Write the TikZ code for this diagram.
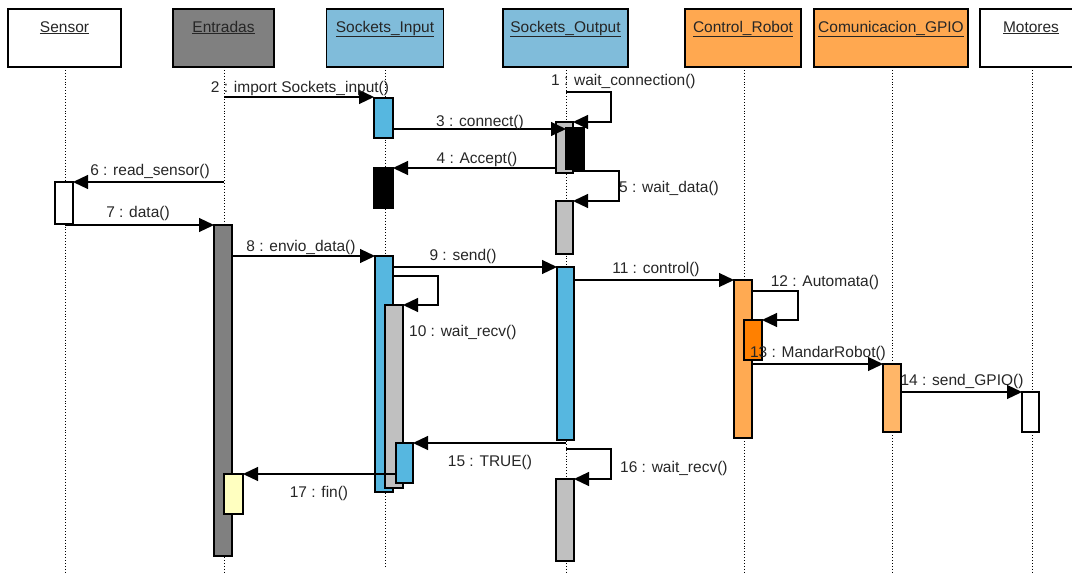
\documentclass[tikz,border=0pt]{standalone}
\usepackage{fontspec}
\setmainfont{Liberation Sans}
\usetikzlibrary{arrows.meta,fit}
\definecolor{hdrBlue}{RGB}{128,188,218}
\definecolor{barBlue}{RGB}{86,183,224}
\definecolor{entGray}{RGB}{128,128,128}
\definecolor{hdrOrange}{RGB}{255,168,80}
\definecolor{barOrange}{RGB}{255,170,82}
\definecolor{gpioOrange}{RGB}{255,182,104}
\definecolor{darkOrange}{RGB}{255,128,0}
\definecolor{barGray}{RGB}{192,192,192}
\definecolor{barYellow}{RGB}{255,255,192}
\begin{document}
\begin{tikzpicture}[x=1pt,y=-1pt,
  every node/.style={font=\fontsize{15.5}{18}\selectfont},
  hdr/.style={draw=black, line width=1.3pt, minimum height=58pt, inner sep=0pt, outer sep=0pt},
  hlab/.style={label={[anchor=base,yshift=-23pt,inner sep=0pt,text=black!85]north:\underline{#1}}},
  bar/.style={draw=black, line width=1.2pt, inner sep=0pt, outer sep=0pt},
  life/.style={dotted, line width=0.9pt},
  msg/.style={line width=1.2pt, -{Triangle[length=15pt,width=14pt]}},
  lbl/.style={inner sep=0pt, text=black!85}
]
\useasboundingbox (0,0) rectangle (1072,573);
% headers
\node[hdr, fill=white, minimum width=113pt, hlab={Sensor}] (hSen) at (64.5,38) {};
\node[hdr, fill=entGray, minimum width=101pt, hlab={Entradas}] (hEnt) at (223.5,38) {};
\node[hdr, fill=hdrBlue, minimum width=117pt, hlab={Sockets\_Input}] (hSI) at (385,38) {};
\node[hdr, fill=hdrBlue, minimum width=125pt, hlab={Sockets\_Output}] (hSO) at (565.5,38) {};
\node[hdr, fill=hdrOrange, minimum width=116pt, hlab={Control\_Robot}] (hCR) at (743,38) {};
\node[hdr, fill=hdrOrange, minimum width=154pt, hlab={Comunicacion\_GPIO}] (hGP) at (891,38) {};
\node[hdr, fill=white, minimum width=102pt, hlab={Motores}] (hMo) at (1031,38) {};
% lifeline ends
\coordinate (eSen) at (65,573);
\coordinate (eEnt) at (224,573);
\coordinate (eSI) at (385,567);
\coordinate (eSO) at (566,573);
\coordinate (eCR) at (744,573);
\coordinate (eGP) at (892,573);
\coordinate (eMo) at (1032,573);
\draw[life] (hSen.south -| eSen) -- (eSen);
\draw[life] (hEnt.south -| eEnt) -- (eEnt);
\draw[life] (hSI.south -| eSI) -- (eSI);
\draw[life] (hSO.south -| eSO) -- (eSO);
\draw[life] (hCR.south -| eCR) -- (eCR);
\draw[life] (hGP.south -| eGP) -- (eGP);
\draw[life] (hMo.south -| eMo) -- (eMo);
% activation bars
\node[bar, fill=barBlue, fit={(374,98) (393,138)}] (siA) {};
\node[bar, fill=black, fit={(374,168) (393,208)}] (siK) {};
\node[bar, fill=barGray, fit={(556,122) (573,173)}] (soG1) {};
\node[bar, fill=black, fit={(566,128) (584,169)}] (soK) {};
\node[bar, fill=barGray, fit={(556,201) (573,254)}] (soG2) {};
\node[bar, fill=white, fit={(55,182) (73,224)}] (senB) {};
\node[bar, fill=entGray, fit={(214,225) (232,556)}] (entB) {};
\node[bar, fill=barBlue, fit={(375,256) (393,492)}] (siB) {};
\node[bar, fill=barGray, fit={(385,305) (403,488)}] (siG) {};
\node[bar, fill=barBlue, fit={(396,443) (413,483)}] (siC) {};
\node[bar, fill=barBlue, fit={(557,267) (574,440)}] (soB) {};
\node[bar, fill=barOrange, fit={(734,280) (752,438)}] (crB) {};
\node[bar, fill=darkOrange, fit={(744,320) (762,360)}] (crD) {};
\node[bar, fill=gpioOrange, fit={(883,364) (901,432)}] (gpB) {};
\node[bar, fill=white, fit={(1022,392) (1039,432)}] (moB) {};
\node[bar, fill=barYellow, fit={(224,474) (243,514)}] (entY) {};
\node[bar, fill=barGray, fit={(556,479) (574,561)}] (soG3) {};
% messages
% 1
\draw[msg] (eSO |- 0,92) -- (611,92) -- (611,122) -- (soG1.east |- 0,122);
\node[lbl, anchor=base west] (l1) at (551,85) {1 : wait\_connection()};
% 2
\draw[msg] (eEnt |- 0,97) -- (siA.west |- 0,97);
\node[lbl, anchor=base] (l2) at (300,92) {2 : import Sockets\_input()};
% 3
\draw[msg] (siA.east |- 0,129) -- (soK.west |- 0,129);
\node[lbl, anchor=base] (l3) at (480,126) {3 : connect()};
% 4
\draw[msg] (soG1.west |- 0,168) -- (siK.east |- 0,168);
\node[lbl, anchor=base] (l4) at (477,163) {4 : Accept()};
% 5
\draw[msg] (soG1.east |- 0,171) -- (619,171) -- (619,201) -- (soG2.east |- 0,201);
\node[lbl, anchor=base west] (l5) at (619,192) {5 : wait\_data()};
% 6
\draw[msg] (eEnt |- 0,182) -- (senB.east |- 0,182);
\node[lbl, anchor=base] (l6) at (150,175) {6 : read\_sensor()};
% 7
\draw[msg] (eSen |- 0,225) -- (entB.west |- 0,225);
\node[lbl, anchor=base] (l7) at (138,217) {7 : data()};
% 8
\draw[msg] (entB.east |- 0,256) -- (siB.west |- 0,256);
\node[lbl, anchor=base] (l8) at (301,251) {8 : envio\_data()};
% 9
\draw[msg] (siB.east |- 0,267) -- (soB.west |- 0,267);
\node[lbl, anchor=base] (l9) at (463,260) {9 : send()};
% 10
\draw[msg] (siB.east |- 0,276) -- (438,276) -- (438,305) -- (siG.east |- 0,305);
\node[lbl, anchor=base west] (l10) at (409,336) {10 : wait\_recv()};
% 11
\draw[msg] (soB.east |- 0,280) -- (crB.west |- 0,280);
\node[lbl, anchor=base] (l11) at (656,273) {11 : control()};
% 12
\draw[msg] (crB.east |- 0,291) -- (798,291) -- (798,320) -- (crD.east |- 0,320);
\node[lbl, anchor=base] (l12) at (825,286) {12 : Automata()};
% 13
\draw[msg] (crB.east |- 0,364) -- (gpB.west |- 0,364);
\node[lbl, anchor=base] (l13) at (818,357) {13 : MandarRobot()};
% 14
\draw[msg] (gpB.east |- 0,392) -- (moB.west |- 0,392);
\node[lbl, anchor=base] (l14) at (962,385) {14 : send\_GPIO()};
% 15
\draw[msg] (eSO |- 0,443) -- (siC.east |- 0,443);
\node[lbl, anchor=base] (l15) at (490,466) {15 : TRUE()};
% 16
\draw[msg] (eSO |- 0,449) -- (611,449) -- (611,479) -- (soG3.east |- 0,479);
\node[lbl, anchor=base west] (l16) at (620,472) {16 : wait\_recv()};
% 17
\draw[msg] (siC.west |- 0,474) -- (entY.east |- 0,474);
\node[lbl, anchor=base] (l17) at (319,497) {17 : fin()};
\end{tikzpicture}
\end{document}
